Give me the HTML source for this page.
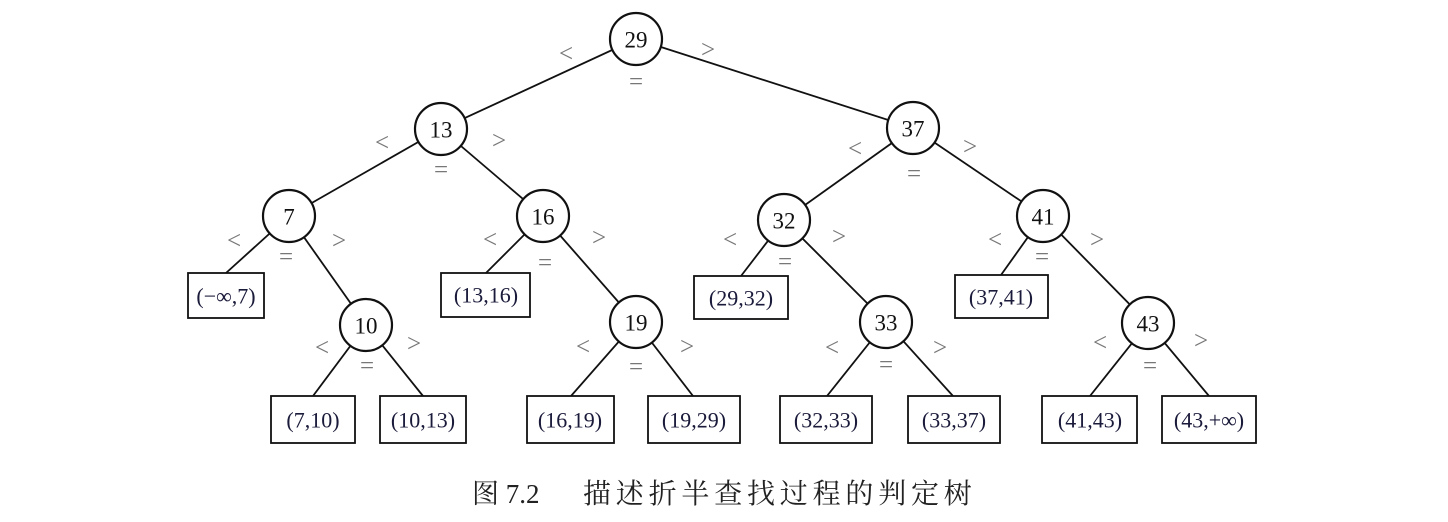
<!DOCTYPE html>
<html><head><meta charset="utf-8"><style>
html,body{margin:0;padding:0;background:#fff;}
svg{display:block;}
text{font-family:"Liberation Serif","Noto Serif CJK SC",serif;}
.n{font-size:23px;fill:#111;text-anchor:middle;dominant-baseline:central;}
.b{font-size:22px;fill:#1a1a3a;text-anchor:middle;dominant-baseline:central;}
.s{font-size:25px;fill:#777;text-anchor:middle;dominant-baseline:central;}
</style></head><body>
<svg width="1448" height="522" viewBox="0 0 1448 522" xmlns="http://www.w3.org/2000/svg">
<g stroke="#111" stroke-width="1.8">
<line x1="636" y1="39" x2="441" y2="129"/>
<line x1="636" y1="39" x2="913" y2="128"/>
<line x1="441" y1="129" x2="289" y2="216"/>
<line x1="441" y1="129" x2="543" y2="216"/>
<line x1="913" y1="128" x2="784" y2="220"/>
<line x1="913" y1="128" x2="1043" y2="216"/>
<line x1="289" y1="216" x2="226" y2="273"/>
<line x1="289" y1="216" x2="366" y2="325"/>
<line x1="543" y1="216" x2="486" y2="273"/>
<line x1="543" y1="216" x2="636" y2="322"/>
<line x1="784" y1="220" x2="741" y2="276"/>
<line x1="784" y1="220" x2="886" y2="322"/>
<line x1="1043" y1="216" x2="1001" y2="275"/>
<line x1="1043" y1="216" x2="1148" y2="323"/>
<line x1="366" y1="325" x2="313" y2="396"/>
<line x1="366" y1="325" x2="423" y2="396"/>
<line x1="636" y1="322" x2="571" y2="396"/>
<line x1="636" y1="322" x2="693" y2="396"/>
<line x1="886" y1="322" x2="827" y2="396"/>
<line x1="886" y1="322" x2="953" y2="396"/>
<line x1="1148" y1="323" x2="1090" y2="396"/>
<line x1="1148" y1="323" x2="1209" y2="396"/>
</g>
<g fill="#fff" stroke="#111" stroke-width="2.2">
<circle cx="636" cy="39" r="26"/>
<circle cx="441" cy="129" r="26"/>
<circle cx="913" cy="128" r="26"/>
<circle cx="289" cy="216" r="26"/>
<circle cx="543" cy="216" r="26"/>
<circle cx="784" cy="220" r="26"/>
<circle cx="1043" cy="216" r="26"/>
<circle cx="366" cy="325" r="26"/>
<circle cx="636" cy="322" r="26"/>
<circle cx="886" cy="322" r="26"/>
<circle cx="1148" cy="323" r="26"/>
</g>
<g fill="#fff" stroke="#111" stroke-width="1.8">
<rect x="188" y="273" width="76" height="45"/>
<rect x="441" y="273" width="89" height="44"/>
<rect x="694" y="276" width="94" height="43"/>
<rect x="955" y="275" width="93" height="43"/>
<rect x="271" y="396" width="84" height="47"/>
<rect x="380" y="396" width="86" height="47"/>
<rect x="527" y="396" width="87" height="47"/>
<rect x="648" y="396" width="92" height="47"/>
<rect x="780" y="396" width="92" height="47"/>
<rect x="908" y="396" width="92" height="47"/>
<rect x="1042" y="396" width="95" height="47"/>
<rect x="1162" y="396" width="94" height="47"/>
</g>
<g class="n">
<text x="636" y="40">29</text>
<text x="441" y="130">13</text>
<text x="913" y="129">37</text>
<text x="289" y="217">7</text>
<text x="543" y="217">16</text>
<text x="784" y="221">32</text>
<text x="1043" y="217">41</text>
<text x="366" y="326">10</text>
<text x="636" y="323">19</text>
<text x="886" y="323">33</text>
<text x="1148" y="324">43</text>
</g>
<g class="b">
<text x="226" y="296">(−∞,7)</text>
<text x="486" y="295">(13,16)</text>
<text x="741" y="298">(29,32)</text>
<text x="1001" y="297">(37,41)</text>
<text x="313" y="420">(7,10)</text>
<text x="423" y="420">(10,13)</text>
<text x="570" y="420">(16,19)</text>
<text x="694" y="420">(19,29)</text>
<text x="826" y="420">(32,33)</text>
<text x="954" y="420">(33,37)</text>
<text x="1090" y="420">(41,43)</text>
<text x="1209" y="420">(43,+∞)</text>
</g>
<g class="s">
<text x="566" y="54">&lt;</text><text x="708" y="50">&gt;</text><text x="636" y="82">=</text>
<text x="382" y="143">&lt;</text><text x="499" y="141">&gt;</text><text x="441" y="170">=</text>
<text x="855" y="149">&lt;</text><text x="970" y="147">&gt;</text><text x="914" y="174">=</text>
<text x="234" y="241">&lt;</text><text x="339" y="241">&gt;</text><text x="286" y="257">=</text>
<text x="490" y="240">&lt;</text><text x="599" y="238">&gt;</text><text x="545" y="263">=</text>
<text x="730" y="240">&lt;</text><text x="839" y="237">&gt;</text><text x="785" y="262">=</text>
<text x="995" y="240">&lt;</text><text x="1097" y="240">&gt;</text><text x="1042" y="257">=</text>
<text x="322" y="348">&lt;</text><text x="414" y="344">&gt;</text><text x="367" y="366">=</text>
<text x="583" y="347">&lt;</text><text x="687" y="347">&gt;</text><text x="636" y="367">=</text>
<text x="832" y="348">&lt;</text><text x="940" y="348">&gt;</text><text x="886" y="365">=</text>
<text x="1100" y="343">&lt;</text><text x="1201" y="341">&gt;</text><text x="1150" y="366">=</text>
</g>
<text x="472" y="503" style="font-size:27px;fill:#222;">图 7.2</text>
<text x="583" y="503" style="font-size:28px;fill:#222;letter-spacing:4.8px;">描述折半查找过程的判定树</text>
</svg>
</body></html>
